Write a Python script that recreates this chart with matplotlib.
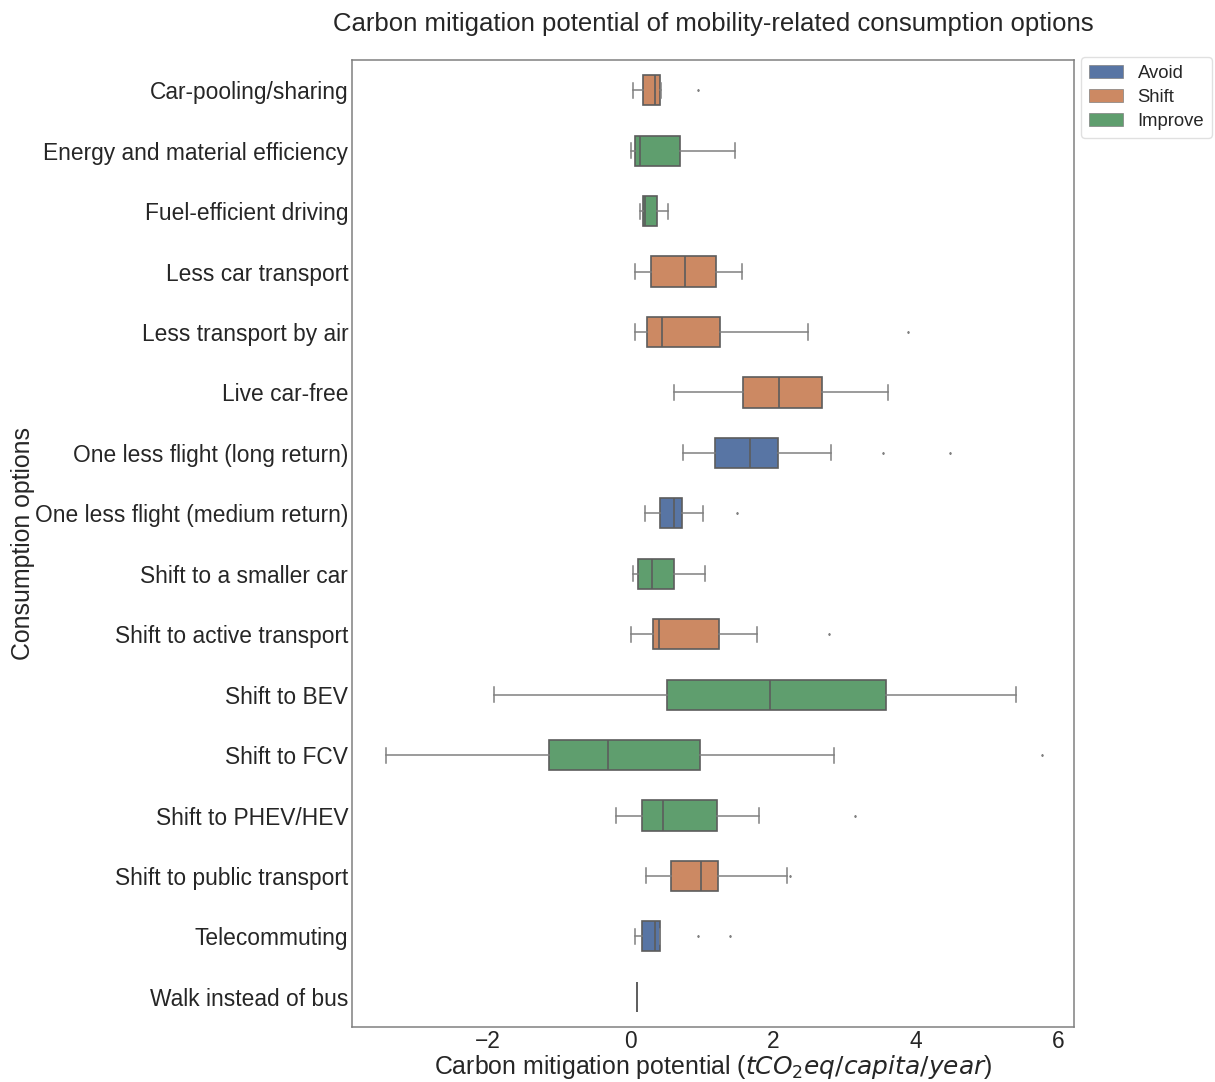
import matplotlib
matplotlib.use("Agg")
import matplotlib.pyplot as plt
from matplotlib.patches import Patch

plt.rcParams['font.family'] = ['Liberation Sans', 'DejaVu Sans']
plt.rcParams['mathtext.fontset'] = 'dejavusans'
plt.rcParams['text.color'] = '.15'
plt.rcParams['axes.labelcolor'] = '.15'
plt.rcParams['xtick.color'] = '.15'
plt.rcParams['ytick.color'] = '.15'

categories = ["Car-pooling/sharing", "Energy and material efficiency", "Fuel-efficient driving",
              "Less car transport", "Less transport by air", "Live car-free",
              "One less flight (long return)", "One less flight (medium return)",
              "Shift to a smaller car", "Shift to active transport", "Shift to BEV",
              "Shift to FCV", "Shift to PHEV/HEV", "Shift to public transport",
              "Telecommuting", "Walk instead of bus"]
groups = ["Shift", "Improve", "Improve", "Shift", "Shift", "Shift", "Avoid", "Avoid",
          "Improve", "Shift", "Improve", "Improve", "Improve", "Shift", "Avoid", "Shift"]

whislo = [0.04, 0.01, 0.13, 0.07, 0.06, 0.61, 0.74, 0.21, 0.04, 0.01, -1.91, -3.43, -0.20, 0.22, 0.07, 0.09]
q1 = [0.18, 0.06, 0.17, 0.29, 0.23, 1.58, 1.19, 0.41, 0.11, 0.31, 0.51, -1.14, 0.16, 0.57, 0.16, 0.09]
med = [0.35, 0.14, 0.21, 0.77, 0.44, 2.08, 1.68, 0.61, 0.30, 0.40, 1.96, -0.32, 0.46, 0.99, 0.35, 0.09]
q3 = [0.41, 0.70, 0.37, 1.20, 1.26, 2.69, 2.07, 0.72, 0.61, 1.24, 3.58, 0.97, 1.21, 1.23, 0.42, 0.09]
whishi = [0.43, 1.46, 0.52, 1.56, 2.49, 3.61, 2.81, 1.01, 1.05, 1.77, 5.41, 2.86, 1.80, 2.20, 0.42, 0.09]
fliers = [[0.95], [], [], [], [3.89], [], [3.54, 4.48], [1.49], [], [2.79], [],
          [5.77], [3.15], [2.24], [0.95, 1.40], []]

hue_order = ["Avoid", "Shift", "Improve"]
palette = {"Avoid": "#5875a4", "Shift": "#cc8963", "Improve": "#5f9e6e"}
gray = "#5c5c5c"

stats = []
for i in range(len(categories)):
    stats.append(dict(whislo=whislo[i], q1=q1[i], med=med[i], q3=q3[i],
                      whishi=whishi[i], fliers=fliers[i], label=categories[i]))

fig = plt.figure(figsize=(12.15, 10.82), dpi=100)
ax = fig.add_axes([0.29, 0.0508, 0.594, 0.8937])

res = ax.bxp(stats, positions=range(len(categories)), widths=0.5,
             orientation='horizontal', patch_artist=True,
             boxprops=dict(edgecolor=gray, linewidth=1.2),
             medianprops=dict(color=gray, linewidth=1.2),
             whiskerprops=dict(color='#808080', linewidth=1.1),
             capprops=dict(color='#808080', linewidth=1.1),
             flierprops=dict(marker='d', markersize=1.0, markerfacecolor='#808080',
                             markeredgecolor='#808080', linestyle='none'))
for box, g in zip(res['boxes'], groups):
    box.set_facecolor(palette[g])

ax.set_ylim(len(categories) - 0.5, -0.5)
ax.set_xlim(-3.90, 6.22)
ax.set_xticks([-2, 0, 2, 4, 6])
ax.tick_params(axis='both', length=0, labelsize=16.4)
ax.tick_params(axis='x', pad=2)
ax.tick_params(axis='y', pad=3)
for s in ax.spines.values():
    s.set_color('0.5')
    s.set_linewidth(1.1)

ax.set_title("Carbon mitigation potential of mobility-related consumption options",
             fontsize=18.5, pad=21)
ax.set_xlabel(r"Carbon mitigation potential ($tCO_2eq/capita/year$)", fontsize=17.9, labelpad=0)
ax.set_ylabel("Consumption options", fontsize=17.9, labelpad=0)

handles = [Patch(facecolor=palette[h], edgecolor='#808080', linewidth=0.5, label=h) for h in hue_order]
leg = ax.legend(handles=handles, loc='upper left', bbox_to_anchor=(1.01, 1.003),
                borderaxespad=0, fontsize=13.3, frameon=True, edgecolor='0.85', fancybox=True,
                handlelength=1.85, labelspacing=0.4)

fig.savefig("out.png", dpi=100)
